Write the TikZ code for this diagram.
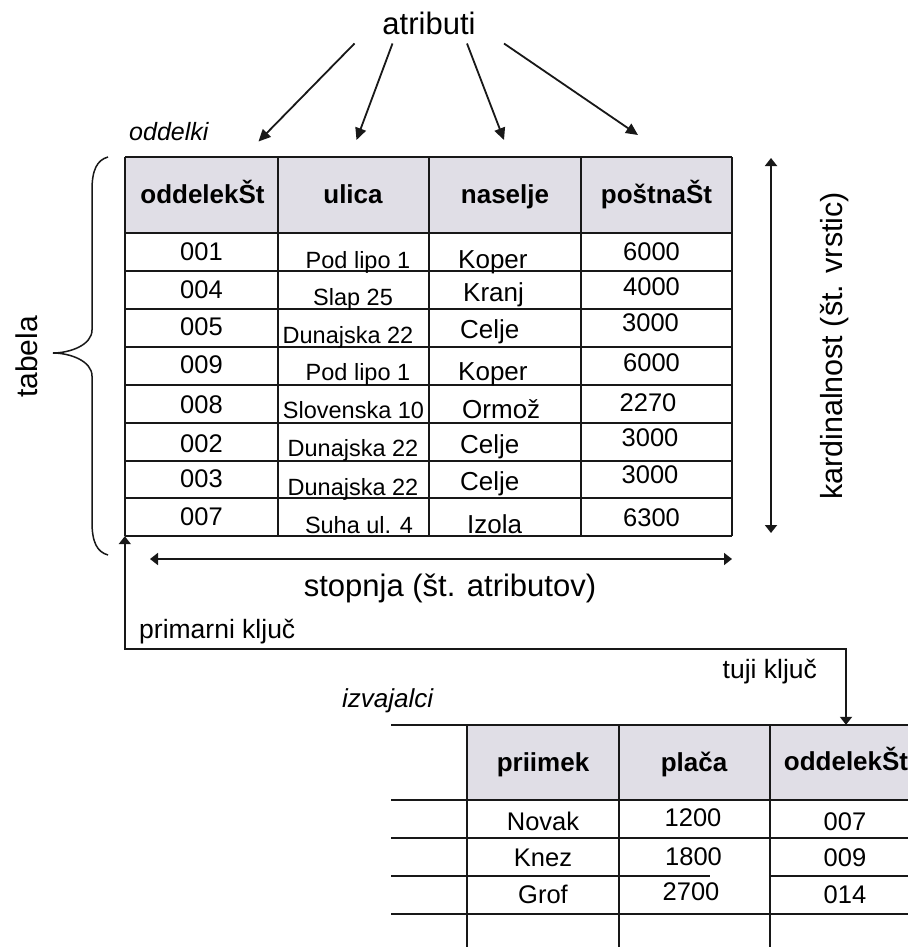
\documentclass[tikz,border=0pt]{standalone}
\usepackage{fontspec}
\setmainfont{Liberation Sans}
\usetikzlibrary{arrows.meta}
\definecolor{hdrfill}{RGB}{224,222,230}
\definecolor{ink}{RGB}{24,24,24}

\begin{document}
\begin{tikzpicture}[x=1pt,y=-1pt,
  rule/.style={draw=ink,line width=1.7pt},
  hdrtext/.style={font=\fontsize{26}{30}\selectfont\bfseries,anchor=base,inner sep=0pt},
  numtext/.style={font=\fontsize{25.5}{30}\selectfont,anchor=base,inner sep=0pt},
  streettext/.style={font=\fontsize{23.5}{28}\selectfont,anchor=base,inner sep=0pt},
  towntext/.style={font=\fontsize{26}{30}\selectfont,anchor=base west,inner sep=0pt},
  labeltext/.style={font=\fontsize{26.5}{30}\selectfont,anchor=base west,inner sep=0pt},
  bigtext/.style={font=\fontsize{31}{36}\selectfont,inner sep=0pt},
  pointer/.style={draw=ink,line width=1.8pt,-{Triangle[length=12pt,width=11pt]}},
  span/.style={draw=ink,line width=1.8pt,{Triangle[length=8pt,width=12pt]}-{Triangle[length=8pt,width=12pt]}},
]
\useasboundingbox[fill=white] (0,0) rectangle (907,947);

% ---------- table "oddelki" ----------
\fill[hdrfill] (125,157) rectangle (732,233);
\foreach \y in {157,233,271,309,347,385,423,461,498,536}
  \draw[rule] (125,\y) -- (732,\y);
\foreach \x in {125,278,429,581,732}
  \draw[rule] (\x,157) -- (\x,536);
\node[inner sep=0pt,minimum width=607pt,minimum height=379pt] (oddelki) at (428.5,346.5) {};

\node[hdrtext] (h1) at (202.5,203) {oddelekŠt};
\node[hdrtext] (h2) at (353,203) {ulica};
\node[hdrtext] (h3) at (505,203) {naselje};
\node[hdrtext] (h4) at (656.5,203) {poštnaŠt};

\foreach \t/\y [count=\i] in {001/260,004/298,005/335,009/373,008/413,002/452,003/487,007/525}
  \node[numtext] (id\i) at (201.5,\y) {\t};
\foreach \t/\x/\y [count=\i] in {Pod lipo 1/358/268,Slap 25/353/305,Dunajska 22/348/343,Pod lipo 1/358/380,
    Slovenska 10/353.5/418,Dunajska 22/353/456.5,Dunajska 22/353/495,Suha ul. 4/359/533}
  \node[streettext] (st\i) at (\x,\y) {\t};
\foreach \t/\x/\y [count=\i] in {Koper/458/268,Kranj/463/301.5,Celje/460/338,Koper/458/380,
    Ormož/462/418,Celje/460/453,Celje/460/490,Izola/467/533}
  \node[towntext] (tw\i) at (\x,\y) {\t};
\foreach \t/\x/\y [count=\i] in {6000/651.5/260,4000/651.5/295,3000/650.5/331.5,6000/651.5/371.5,
    2270/648/411.5,3000/650/446.5,3000/650/483,6300/651.5/526.5}
  \node[numtext] (pc\i) at (\x,\y) {\t};

\node[font=\fontsize{25}{30}\selectfont\itshape,anchor=base west,inner sep=0pt] (tname1) at (129,140) {oddelki};

% ---------- attribute pointers ----------
\node[bigtext,anchor=base] (atr) at (429,35) {atributi};
\coordinate (a1) at (354.5,43.5); \coordinate (b1) at (258.5,141.5);
\coordinate (a2) at (392.5,43.5); \coordinate (b2) at (356.5,140);
\coordinate (a3) at (467,43.5);   \coordinate (b3) at (504,140);
\coordinate (a4) at (504,43.5);   \coordinate (b4) at (638,135);
\foreach \i in {1,...,4} \draw[pointer] (a\i) -- (b\i);

% ---------- brace "tabela" ----------
\draw[ink,line width=1.5pt] (108,157) .. controls (97,160) and (92,170) .. (92,190) -- (92,330)
  .. controls (92,345) and (70,353) .. (53,353)
  .. controls (70,353) and (92,361) .. (92,376) -- (92,522)
  .. controls (92,542) and (97,552) .. (108,555);
\node[bigtext,rotate=90,font=\fontsize{30}{34}\selectfont] (tabela) at (27,357) {tabela};

% ---------- cardinality and degree ----------
\coordinate (k1) at (771,158); \coordinate (k2) at (771,533);
\draw[span] (k1) -- (k2);
\node[bigtext,rotate=90,font=\fontsize{30.5}{34}\selectfont] (kard) at (835,346) {kardinalnost (št. vrstic)};
\coordinate (s1) at (150,559); \coordinate (s2) at (732,559);
\draw[span] (s1) -- (s2);
\node[bigtext,anchor=base] (stop) at (450,596.5) {stopnja (št. atributov)};

% ---------- table "izvajalci" ----------
\fill[hdrfill] (467,725) rectangle (915,800);
\foreach \y in {725,800,838,914}
  \draw[rule] (391,\y) -- (915,\y);
\draw[rule] (391,876) -- (710,876);
\draw[rule] (770,876) -- (915,876);
\foreach \x in {467,619,770}
  \draw[rule] (\x,725) -- (\x,955);

\node[hdrtext] (g1) at (543,771) {priimek};
\node[hdrtext] (g2) at (694,771) {plača};
\node[hdrtext] (g3) at (846,770) {oddelekŠt};
\node[inner sep=0pt,minimum width=150pt,minimum height=75pt] (fkcell) at (846,762.5) {};

\foreach \t/\y [count=\i] in {Novak/830,Knez/866.5,Grof/903}
  \node[numtext] (nm\i) at (543,\y) {\t};
\foreach \t/\x/\y [count=\i] in {1200/693/826.5,1800/693.5/865,2700/691/900}
  \node[numtext] (pl\i) at (\x,\y) {\t};
\foreach \t/\y [count=\i] in {007/830,009/866.5,014/903}
  \node[numtext] (fk\i) at (845,\y) {\t};

\node[font=\fontsize{26}{30}\selectfont\itshape,anchor=base west,inner sep=0pt] (tname2) at (342,707) {izvajalci};

% ---------- key link ----------
\draw[span] (oddelki.south west) -- ++(0,113) -| (fkcell.north);
\node[labeltext] (pk) at (139,638) {primarni ključ};
\node[labeltext] (fkl) at (722.5,678) {tuji ključ};
\end{tikzpicture}
\end{document}
